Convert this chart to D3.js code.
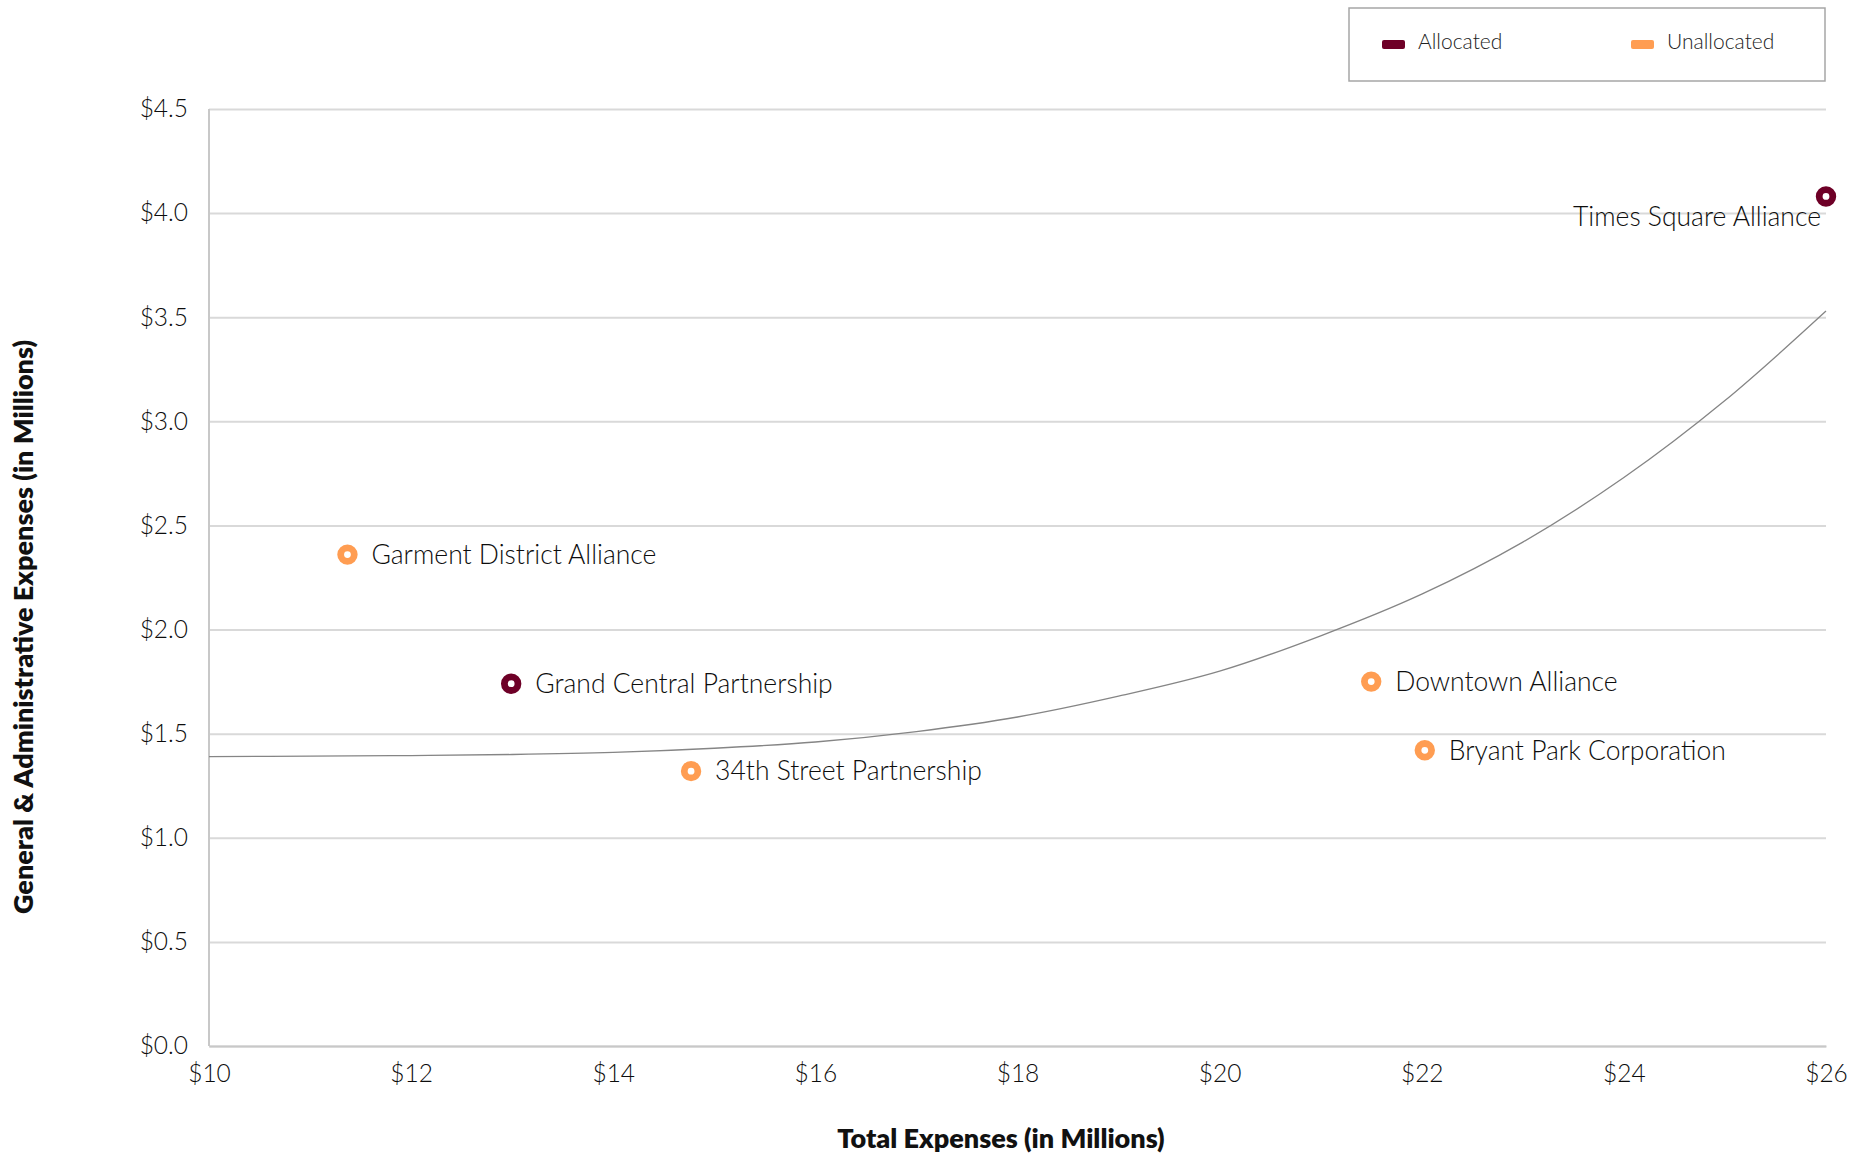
<!DOCTYPE html>
<html>
<head>
<meta charset="utf-8">
<script src="https://cdn.jsdelivr.net/npm/d3@7"></script>
<style>
  html, body { margin: 0; padding: 0; background: #fff; }
  svg { display: block; font-family: Lato, "Open Sans", sans-serif; }
</style>
</head>
<body>
<svg id="chart" width="1874" height="1156"></svg>
<script>
// ---- Data ----
const names = ["Times Square Alliance", "Garment District Alliance", "Grand Central Partnership", "34th Street Partnership", "Downtown Alliance", "Bryant Park Corporation"];
const totalExpenses = [26.0, 11.37, 12.99, 14.77, 21.50, 22.03];
const gaExpenses = [4.08, 2.36, 1.74, 1.32, 1.75, 1.42];
const allocation = ["Allocated", "Unallocated", "Allocated", "Unallocated", "Unallocated", "Unallocated"];
const legendLabels = ["Allocated", "Unallocated"];
const trendX = [10, 11, 12, 13, 14, 15, 16, 17, 18, 19, 20, 21, 22, 23, 24, 25, 26];
const trendY = [1.39, 1.392, 1.395, 1.40, 1.41, 1.43, 1.46, 1.51, 1.58, 1.68, 1.80, 1.97, 2.17, 2.42, 2.73, 3.10, 3.53];
const xTicks = [10, 12, 14, 16, 18, 20, 22, 24, 26];
const yTicks = [0, 0.5, 1.0, 1.5, 2.0, 2.5, 3.0, 3.5, 4.0, 4.5];
const xTitle = "Total Expenses (in Millions)";
const yTitle = "General & Administrative Expenses (in Millions)";

// ---- Layout ----
const svg = d3.select("#chart");
const margin = {left: 209, top: 109, right: 48, bottom: 110};
const W = 1874, H = 1156;
const x = d3.scaleLinear().domain([10, 26]).range([margin.left, W - margin.right]);
const y = d3.scaleLinear().domain([0, 4.5]).range([H - margin.bottom, margin.top]);
const color = d3.scaleOrdinal().domain(legendLabels).range(["#6e0027", "#ff9d52"]);
const textColor = "#0d0d0d";
const lightFont = "Lato, sans-serif";

// gridlines
svg.append("g")
  .attr("transform", `translate(${margin.left},0)`)
  .call(d3.axisLeft(y).tickValues(yTicks).tickSize(-(W - margin.left - margin.right)).tickFormat(""))
  .call(g => g.select(".domain").remove())
  .call(g => g.selectAll("line").attr("stroke", "#d9d9d9").attr("stroke-width", 2));

// y axis labels
svg.append("g")
  .attr("transform", `translate(${margin.left},0)`)
  .call(d3.axisLeft(y).tickValues(yTicks).tickSize(0).tickPadding(21).tickFormat(d => "$" + d3.format(".1f")(d)))
  .call(g => g.select(".domain").remove())
  .call(g => g.selectAll("text").attr("font-size", 24.5).attr("font-weight", 300).attr("fill", textColor).attr("font-family", lightFont));

// x axis
svg.append("g")
  .attr("transform", `translate(0,${H - margin.bottom})`)
  .call(d3.axisBottom(x).tickValues(xTicks).tickSize(0).tickPadding(19).tickFormat(d => "$" + d))
  .call(g => g.select(".domain").attr("stroke", "#c8c8c8").attr("stroke-width", 2))
  .call(g => g.selectAll("text").attr("font-size", 24.5).attr("font-weight", 300).attr("fill", textColor).attr("font-family", lightFont));

// left axis line
svg.append("line")
  .attr("x1", x(10)).attr("x2", x(10))
  .attr("y1", y(4.5)).attr("y2", y(0))
  .attr("stroke", "#c8c8c8").attr("stroke-width", 2);

// trend line
const trend = trendX.map((d, i) => [d, trendY[i]]);
svg.append("path")
  .datum(trend)
  .attr("fill", "none")
  .attr("stroke", "#858585")
  .attr("stroke-width", 1.3)
  .attr("d", d3.line().x(d => x(d[0])).y(d => y(d[1])).curve(d3.curveCatmullRom));

// points
const pts = names.map((n, i) => ({name: n, tx: totalExpenses[i], ga: gaExpenses[i], type: allocation[i]}));
svg.append("g").selectAll("circle")
  .data(pts).join("circle")
  .attr("cx", d => x(d.tx)).attr("cy", d => y(d.ga))
  .attr("r", 6.8)
  .attr("fill", "#fff")
  .attr("stroke", d => color(d.type))
  .attr("stroke-width", 6.8);

// labels
svg.append("g").selectAll("text")
  .data(pts).join("text")
  .attr("x", d => d.name === "Times Square Alliance" ? x(d.tx) - 5 : x(d.tx) + 24)
  .attr("y", d => d.name === "Times Square Alliance" ? y(d.ga) + 20 : y(d.ga))
  .attr("dy", "0.35em")
  .attr("text-anchor", d => d.name === "Times Square Alliance" ? "end" : "start")
  .attr("font-size", 26.5)
  .attr("font-weight", 300)
  .attr("fill", textColor)
  .text(d => d.name);

// axis titles
svg.append("text")
  .attr("x", 1001).attr("y", 1139).attr("dy", "0.35em")
  .attr("text-anchor", "middle")
  .attr("font-size", 27).attr("font-weight", 800).attr("fill", "#111")
  .text(xTitle);

svg.append("text")
  .attr("transform", `translate(24,627) rotate(-90)`)
  .attr("dy", "0.35em")
  .attr("text-anchor", "middle")
  .attr("font-size", 27).attr("font-weight", 800).attr("fill", "#111")
  .text(yTitle);

// legend
const lg = svg.append("g");
lg.append("rect")
  .attr("x", 1349).attr("y", 8).attr("width", 476).attr("height", 73)
  .attr("fill", "#fff").attr("stroke", "#a6a6a6").attr("stroke-width", 1.5);
const legendX = [1382, 1631];
legendLabels.forEach((lab, i) => {
  lg.append("rect")
    .attr("x", legendX[i]).attr("y", 40).attr("width", 23).attr("height", 9).attr("rx", 2)
    .attr("fill", color(lab));
  lg.append("text")
    .attr("x", legendX[i] + 36).attr("y", 42).attr("dy", "0.35em")
    .attr("font-size", 21).attr("font-weight", 300).attr("fill", "#222")
    .text(lab);
});
</script>
</body>
</html>
